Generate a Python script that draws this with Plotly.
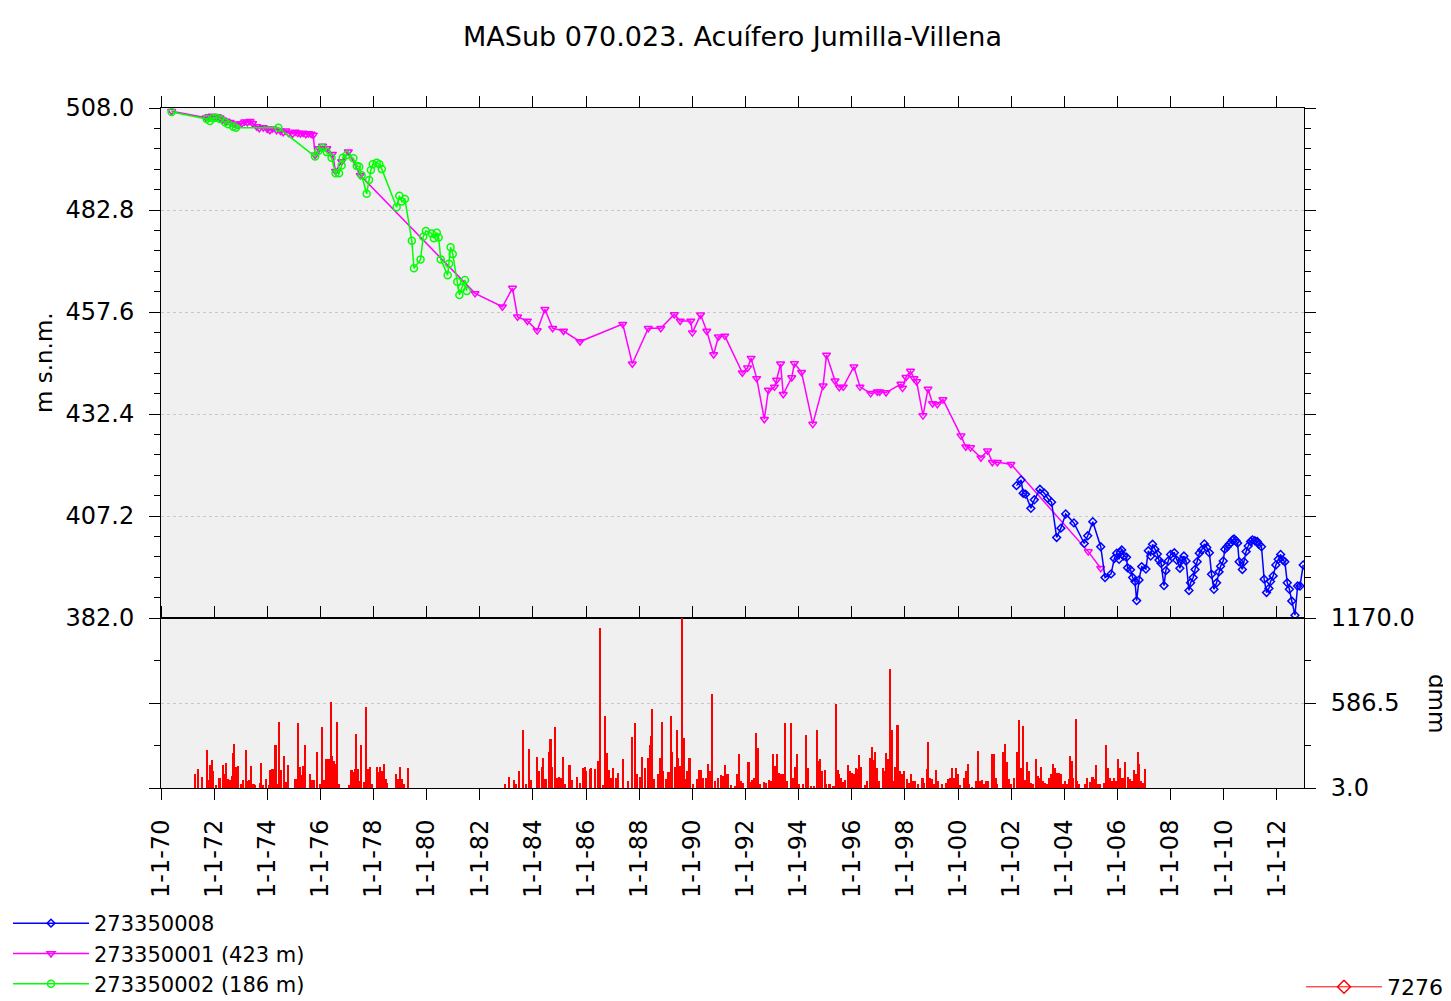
import plotly.graph_objects as go

# ---------------- data ----------------
# 273350008 (blue)
b_x = [2002.20, 2002.37, 2002.45, 2002.54, 2002.74, 2002.87, 2003.08, 2003.25, 2003.37, 2003.52,
       2003.71, 2003.87, 2004.05, 2004.36, 2004.75, 2004.88, 2005.07, 2005.37, 2005.53, 2005.76,
       2005.88, 2005.97, 2006.06, 2006.11, 2006.16, 2006.24, 2006.34, 2006.38, 2006.49, 2006.57,
       2006.66, 2006.72, 2006.81, 2006.91, 2007.07, 2007.16, 2007.25, 2007.32, 2007.41, 2007.50,
       2007.56, 2007.64, 2007.75, 2007.82, 2007.91, 2008.00, 2008.14, 2008.23, 2008.35, 2008.42,
       2008.50, 2008.58, 2008.69, 2008.75, 2008.85, 2008.92, 2009.00, 2009.08, 2009.17, 2009.27,
       2009.36, 2009.46, 2009.54, 2009.63, 2009.73, 2009.82, 2009.88, 2009.98, 2010.04, 2010.13,
       2010.20, 2010.27, 2010.33, 2010.39, 2010.46, 2010.52, 2010.58, 2010.70, 2010.76, 2010.84,
       2010.92, 2011.01, 2011.08, 2011.17, 2011.26, 2011.32, 2011.42, 2011.52, 2011.61, 2011.70,
       2011.76, 2011.86, 2011.96, 2012.05, 2012.14, 2012.22, 2012.30, 2012.39, 2012.47, 2012.56,
       2012.68, 2012.78, 2012.87, 2012.99]
b_y = [414.7, 416.1, 412.8, 412.6, 409.1, 411.2, 413.8, 412.8, 411.6, 410.6,
       401.9, 404.2, 407.7, 405.5, 400.4, 402.3, 405.8, 399.6, 392.0, 392.9,
       396.7, 398.0, 396.5, 398.3, 398.8, 397.3, 397.0, 394.4, 393.9, 392.0,
       391.0, 386.3, 391.4, 394.7, 394.1, 398.6, 397.3, 400.2, 399.0, 397.8,
       396.3, 395.5, 390.0, 393.7, 396.1, 397.7, 398.1, 396.3, 394.3, 396.3,
       397.3, 396.1, 388.8, 390.7, 392.0, 394.0, 395.9, 398.0, 398.8, 400.3,
       399.4, 398.1, 392.8, 389.1, 390.7, 393.4, 394.8, 396.1, 399.0, 399.6,
       400.2, 400.6, 401.3, 401.5, 401.1, 400.5, 395.9, 394.0, 395.9, 398.4,
       399.8, 400.9, 401.3, 401.1, 400.9, 400.2, 399.6, 391.6, 388.3, 389.3,
       391.0, 392.4, 395.1, 396.5, 397.7, 396.3, 395.9, 390.7, 389.1, 386.2,
       382.7, 389.9, 389.9, 395.1]

# 273350001 (423 m) (magenta)
m_x = [1970.40, 1971.70, 1971.80, 1971.92, 1972.02, 1972.12, 1972.22, 1972.32, 1972.45, 1972.60,
       1972.75, 1972.90, 1973.05, 1973.15, 1973.25, 1973.35, 1973.45, 1973.60, 1973.70, 1973.85,
       1974.00, 1974.10, 1974.20, 1974.35, 1974.50, 1974.60, 1974.70, 1974.80, 1974.95, 1975.05,
       1975.15, 1975.25, 1975.35, 1975.45, 1975.55, 1975.65, 1975.73, 1975.80, 1975.95, 1976.08,
       1976.24, 1976.45, 1976.57, 1976.80, 1977.05, 1977.50, 1981.82, 1982.85, 1983.23, 1983.42,
       1983.79, 1984.16, 1984.45, 1984.74, 1985.15, 1985.77, 1987.38, 1987.74, 1988.34, 1988.81,
       1989.32, 1989.54, 1989.94, 1990.00, 1990.31, 1990.54, 1990.80, 1990.98, 1991.22, 1991.88,
       1992.08, 1992.21, 1992.42, 1992.71, 1992.86, 1993.09, 1993.17, 1993.32, 1993.42, 1993.74,
       1993.84, 1994.11, 1994.53, 1994.92, 1995.05, 1995.37, 1995.53, 1995.68, 1996.08, 1996.31,
       1996.71, 1996.96, 1997.05, 1997.29, 1997.85, 1997.91, 1998.04, 1998.21, 1998.34, 1998.44,
       1998.68, 1998.87, 1999.04, 1999.22, 1999.43, 2000.11, 2000.29, 2000.47, 2000.86, 2001.11,
       2001.29, 2001.48, 2001.99, 2004.90, 2005.37]
m_y = [507.2, 505.6, 505.9, 506.0, 505.8, 505.9, 505.6, 505.1, 504.8, 504.5,
       504.1, 503.8, 504.2, 504.6, 504.5, 504.7, 504.2, 503.4, 503.0, 503.2,
       502.8, 502.5, 502.9, 502.5, 502.3, 502.0, 502.4, 501.8, 501.6, 502.1,
       501.8, 501.7, 501.8, 501.5, 501.7, 501.6, 501.3, 496.4, 498.0, 498.6,
       498.0, 496.6, 492.4, 494.8, 497.2, 491.4, 462.2, 458.9, 463.5, 456.4,
       455.4, 453.0, 458.3, 453.6, 452.9, 450.3, 454.6, 444.8, 453.6, 453.6,
       457.0, 455.4, 455.4, 452.5, 456.9, 452.9, 447.1, 451.5, 451.7, 442.6,
       443.8, 446.2, 441.2, 431.1, 438.3, 439.1, 440.8, 444.8, 437.3, 441.4,
       444.9, 442.7, 429.9, 439.4, 447.0, 440.6, 439.0, 439.1, 444.1, 439.1,
       437.5, 437.9, 437.9, 437.7, 439.8, 438.8, 441.5, 443.0, 441.2, 440.4,
       432.0, 438.6, 435.0, 434.8, 436.0, 427.0, 424.3, 424.1, 421.6, 423.3,
       420.5, 420.5, 420.0, 398.4, 394.3]

# 273350002 (186 m) (green)
g_x = [1970.40, 1971.72, 1971.84, 1971.96, 1972.09, 1972.22, 1972.41, 1972.53, 1972.72, 1972.82,
       1974.42, 1975.80, 1975.92, 1976.08, 1976.24, 1976.42, 1976.57, 1976.70, 1976.80, 1976.84,
       1976.99, 1977.24, 1977.37, 1977.46, 1977.55, 1977.74, 1977.83, 1977.90, 1977.97, 1978.12,
       1978.22, 1978.31, 1978.87, 1978.97, 1979.06, 1979.18, 1979.44, 1979.52, 1979.77, 1979.87,
       1979.97, 1980.19, 1980.27, 1980.38, 1980.45, 1980.53, 1980.79, 1980.84, 1980.90, 1980.98,
       1981.15, 1981.23, 1981.32, 1981.44, 1981.51]
g_y = [507.0, 505.3, 504.8, 505.5, 505.6, 505.3, 504.5, 504.0, 503.4, 503.1,
       503.1, 496.0, 497.4, 498.2, 497.1, 495.7, 491.9, 491.9, 493.8, 495.7,
       496.4, 495.6, 493.7, 493.5, 491.4, 486.8, 490.2, 492.7, 494.1, 494.5,
       494.1, 492.9, 483.5, 486.3, 484.9, 485.5, 475.2, 468.4, 470.6, 476.2,
       477.6, 477.0, 475.8, 477.2, 476.0, 470.6, 466.7, 469.5, 473.6, 471.9,
       465.1, 461.8, 463.6, 465.5, 462.8]

# 7276 rainfall (dmm), red bars
p_x = [1971.30, 1971.40, 1971.54, 1971.73, 1971.80, 1971.87, 1971.92, 1971.97, 1972.09, 1972.19,
       1972.23, 1972.33, 1972.38, 1972.45, 1972.52, 1972.59, 1972.67, 1972.71, 1972.77, 1972.84,
       1972.91, 1973.03, 1973.10, 1973.20, 1973.29, 1973.34, 1973.41, 1973.49, 1973.53, 1973.72,
       1973.78, 1973.86, 1973.96, 1974.06, 1974.12, 1974.18, 1974.25, 1974.32, 1974.39, 1974.45,
       1974.52, 1974.64, 1974.71, 1974.78, 1975.04, 1975.12, 1975.17, 1975.23, 1975.30, 1975.36,
       1975.43, 1975.62, 1975.69, 1975.76, 1975.88, 1975.98, 1976.08, 1976.15, 1976.24, 1976.34,
       1976.41, 1976.46, 1976.51, 1976.59, 1976.64, 1976.69, 1977.09, 1977.18, 1977.23, 1977.31,
       1977.36, 1977.42, 1977.46, 1977.54, 1977.64, 1977.71, 1977.78, 1977.82, 1977.88, 1977.95,
       1978.14, 1978.18, 1978.26, 1978.33, 1978.39, 1978.46, 1978.50, 1978.86, 1978.93, 1979.01,
       1979.08, 1979.15, 1979.29,
       1982.94, 1983.11, 1983.30, 1983.37, 1983.47, 1983.65, 1983.76, 1983.86, 1983.95, 1984.16,
       1984.22, 1984.34, 1984.38, 1984.48, 1984.63, 1984.67, 1984.73, 1984.84, 1984.91, 1984.99,
       1985.06, 1985.13, 1985.22, 1985.35, 1985.39, 1985.49, 1985.68, 1985.78, 1985.89, 1985.97,
       1986.02, 1986.14, 1986.21, 1986.33, 1986.47, 1986.54, 1986.64, 1986.71, 1986.79, 1986.86,
       1986.93, 1987.03, 1987.12, 1987.22, 1987.41, 1987.58, 1987.75, 1987.84, 1987.94, 1988.04,
       1988.13, 1988.23, 1988.33, 1988.40, 1988.44, 1988.49, 1988.56, 1988.73, 1988.80, 1988.85,
       1988.92, 1989.02, 1989.11, 1989.19, 1989.25, 1989.34, 1989.42, 1989.48, 1989.54, 1989.63,
       1989.68, 1989.74, 1989.81, 1989.88, 1989.93, 1990.03, 1990.17, 1990.27, 1990.32, 1990.39,
       1990.53, 1990.61, 1990.68, 1990.75, 1990.86, 1990.97, 1991.08, 1991.18, 1991.25, 1991.33,
       1991.47, 1991.61, 1991.69, 1991.76, 1991.83, 1991.90, 1992.12,
       1992.16, 1992.27, 1992.34, 1992.42, 1992.46, 1992.57, 1992.71, 1992.79, 1992.91, 1992.98,
       1993.06, 1993.12, 1993.19, 1993.26, 1993.34, 1993.41, 1993.49, 1993.56, 1993.71, 1993.80,
       1993.86, 1993.93, 1994.01, 1994.16, 1994.28, 1994.35, 1994.46, 1994.57, 1994.69, 1994.75,
       1994.81, 1994.90, 1994.99, 1995.05, 1995.17, 1995.32, 1995.42, 1995.47, 1995.54, 1995.59,
       1995.69, 1995.76, 1995.88, 1995.94, 1996.03, 1996.09, 1996.18, 1996.26, 1996.29, 1996.36,
       1996.51, 1996.58, 1996.69, 1996.76, 1996.81, 1996.88, 1996.96, 1997.04, 1997.19, 1997.25,
       1997.30, 1997.37, 1997.45, 1997.51, 1997.58, 1997.65, 1997.73, 1997.82, 1997.88, 1997.97,
       1998.07, 1998.15, 1998.25, 1998.32, 1998.40, 1998.49, 1998.67, 1998.74, 1998.85, 1998.89,
       1998.96, 1999.04, 1999.11, 1999.19, 1999.26, 1999.41, 1999.56, 1999.63, 1999.71, 1999.78,
       1999.85, 1999.93, 2000.01, 2000.08, 2000.23, 2000.30, 2000.38, 2000.42, 2000.53, 2000.68,
       2000.75, 2000.82, 2000.90, 2000.97, 2001.05, 2001.12, 2001.27, 2001.35, 2001.42, 2001.49,
       2001.72, 2001.79, 2001.84, 2001.91, 2002.01, 2002.13, 2002.24, 2002.31, 2002.39, 2002.46,
       2002.54, 2002.61, 2002.68, 2002.76, 2002.83, 2002.94, 2003.03, 2003.09, 2003.13, 2003.21,
       2003.28, 2003.35, 2003.43, 2003.50, 2003.58, 2003.65, 2003.73, 2003.80, 2003.88, 2003.95,
       2004.02, 2004.10, 2004.17, 2004.22, 2004.28, 2004.34, 2004.44, 2004.50, 2004.57, 2004.77,
       2004.87, 2004.96, 2005.07, 2005.14, 2005.21, 2005.29, 2005.36, 2005.51, 2005.59, 2005.66,
       2005.73, 2005.81, 2005.88, 2005.96, 2006.03, 2006.11, 2006.18, 2006.26, 2006.30, 2006.40,
       2006.48, 2006.55, 2006.63, 2006.70, 2006.78, 2006.82, 2006.90, 2006.96, 2007.04]
p_y = [101, 131, 78, 262, 55, 161, 193, 120, 23, 74,
       69, 159, 97, 177, 62, 55, 83, 246, 308, 147,
       152, 30, 55, 262, 51, 55, 152, 28, 23, 37,
       173, 23, 67, 23, 124, 131, 131, 299, 28, 458,
       124, 223, 41, 161, 62, 67, 449, 147, 92, 154,
       295, 97, 55, 55, 251, 28, 419, 55, 200, 200,
       592, 223, 189, 170, 458, 28, 23, 124, 113, 131,
       373, 131, 51, 297, 46, 557, 23, 136, 150, 28,
       147, 113, 147, 120, 166, 67, 37, 97, 67, 147,
       62, 28, 138,
       32, 78, 55, 28, 120, 400, 28, 269, 55, 219,
       120, 147, 212, 62, 251, 338, 147, 419, 74, 78,
       74, 219, 28, 159, 159, 55, 81, 39, 143, 147,
       120, 131, 143, 136, 189, 1098, 23, 500, 246, 124,
       74, 138, 74, 108, 200, 51, 354, 447, 101, 78,
       216, 143, 212, 299, 361, 546, 62, 97, 207, 458,
       120, 67, 113, 500, 251, 147, 400, 207, 154, 1167,
       343, 62, 120, 207, 207, 32, 62, 124, 124, 74,
       74, 166, 120, 649, 51, 74, 92, 85, 159, 97,
       23, 16, 97, 235, 51, 39, 184,
       46, 55, 74, 378, 281, 28, 46, 39, 55, 51,
       239, 154, 239, 108, 97, 101, 449, 51, 449, 74,
       147, 239, 28, 28, 366, 143, 16, 16, 400, 189,
       200, 120, 124, 28, 32, 16, 580, 124, 97, 74,
       46, 55, 159, 120, 108, 97, 138, 131, 228, 147,
       23, 51, 212, 285, 193, 251, 143, 51, 143, 120,
       246, 200, 822, 400, 51, 147, 435, 120, 97, 120,
       62, 39, 97, 51, 51, 28, 69, 39, 136, 320,
       74, 62, 28, 124, 51, 32, 39, 62, 74, 138,
       74, 138, 97, 23, 74, 120, 166, 28, 10, 51,
       258, 51, 55, 32, 51, 51, 239, 239, 74, 28,
       251, 308, 184, 62, 28, 74, 251, 470, 143, 430,
       55, 182, 120, 39, 28, 200, 85, 74, 147, 51,
       39, 28, 74, 97, 166, 143, 108, 108, 97, 28,
       51, 28, 62, 223, 189, 74, 476, 51, 28, 28,
       74, 46, 78, 62, 159, 28, 28, 39, 299, 143,
       74, 51, 74, 51, 200, 143, 74, 74, 182, 78,
       62, 51, 124, 97, 253, 166, 51, 39, 131]

# axis ticks
x_tickvals = [1970, 1972, 1974, 1976, 1978, 1980, 1982, 1984, 1986, 1988, 1990,
              1992, 1994, 1996, 1998, 2000, 2002, 2004, 2006, 2008, 2010, 2012]
x_ticktext = ["1-1-70", "1-1-72", "1-1-74", "1-1-76", "1-1-78", "1-1-80", "1-1-82",
              "1-1-84", "1-1-86", "1-1-88", "1-1-90", "1-1-92", "1-1-94", "1-1-96",
              "1-1-98", "1-1-00", "1-1-02", "1-1-04", "1-1-06", "1-1-08", "1-1-10", "1-1-12"]
y_tickvals = [382.0, 407.2, 432.4, 457.6, 482.8, 508.0]
y_ticktext = ["382.0", "407.2", "432.4", "457.6", "482.8", "508.0"]
y2_tickvals = [3.0, 586.5, 1170.0]
y2_ticktext = ["3.0", "586.5", "1170.0"]

FONT = "DejaVu Sans"
OFF = 8                     # the page body margin of the html page
W, H = 1451 - OFF, 1001 - OFF
# plot-area edges in page pixels (as in the reference)
L, R, T, B = 161, 1304, 108, 788
fl, fr, ft, fb = L - OFF, R - OFF, T - OFF, B - OFF


def px_x(p):   # page px -> paper x
    return (p - L) / (R - L)


def px_y(p):   # page px -> paper y
    return (B - p) / (B - T)


def cx(p):     # page px -> container x
    return (p - OFF) / W


def cy(p):     # page px -> container y
    return 1 - (p - OFF) / H


fig = go.Figure()

fig.add_trace(go.Scatter(
    x=m_x, y=m_y, name="273350001 (423 m)", mode="lines+markers",
    line=dict(color="#ff00ff", width=1.5),
    marker=dict(symbol="triangle-down-open", size=7, color="#ff00ff", line=dict(width=1.5)),
    legendrank=2, xaxis="x", yaxis="y"))
fig.add_trace(go.Scatter(
    x=g_x, y=g_y, name="273350002 (186 m)", mode="lines+markers",
    line=dict(color="#00ff00", width=1.5),
    marker=dict(symbol="circle-open", size=7, color="#00ff00", line=dict(width=1.5)),
    legendrank=3, xaxis="x", yaxis="y"))
fig.add_trace(go.Scatter(
    x=b_x, y=b_y, name="273350008", mode="lines+markers",
    line=dict(color="#0000ff", width=1.5),
    marker=dict(symbol="diamond-open", size=6, color="#0000ff", line=dict(width=1.5)),
    legendrank=1, xaxis="x", yaxis="y"))

fig.add_trace(go.Bar(
    x=p_x, y=p_y, width=0.06, name="7276",
    marker=dict(color="#ff0000", line=dict(width=0)),
    showlegend=False, xaxis="x2", yaxis="y2"))
# legend entry for the rain series (line + diamond like the original key)
fig.add_trace(go.Scatter(
    x=[None], y=[None], name="7276", mode="lines+markers",
    line=dict(color="#ff0000", width=1),
    marker=dict(symbol="diamond-open", size=10, color="#ff0000", line=dict(width=1.5)),
    legend="legend2", xaxis="x2", yaxis="y2"))

axis_common = dict(showline=True, linecolor="black", linewidth=1, tickcolor="black",
                   zeroline=False, ticks="outside", ticklen=11, tickwidth=1, automargin=False)

fig.update_layout(
    width=W, height=H, autosize=False,
    margin=dict(l=fl, r=W - fr, t=ft, b=H - fb, pad=0, autoexpand=False),
    paper_bgcolor="white", plot_bgcolor="#f0f0f0",
    font=dict(family=FONT, size=24, color="black"),
    title=dict(text="MASub 070.023. Acuífero Jumilla-Villena", x=0.5, xref="paper", xanchor="center",
               y=cy(37), yref="container", yanchor="middle", font=dict(size=27)),
    bargap=0,
    showlegend=True,
    legend=dict(x=0.0, y=cy(903), xref="container", yref="container",
                xanchor="left", yanchor="top", itemwidth=76,
                bgcolor="rgba(0,0,0,0)", font=dict(size=21), tracegroupgap=0),
    legend2=dict(x=cx(1448), y=cy(987), xref="container", yref="container",
                 xanchor="right", yanchor="middle", itemwidth=76,
                 bgcolor="rgba(0,0,0,0)", font=dict(size=22)),
    xaxis=dict(domain=[0, 1], anchor="y", range=[1970, 2013.02], side="top",
               tickmode="array", tickvals=x_tickvals, showticklabels=False,
               mirror=True, showgrid=False, **axis_common),
    xaxis2=dict(domain=[0, 1], anchor="y2", matches="x", range=[1970, 2013.02],
                tickmode="array", tickvals=x_tickvals, ticktext=x_ticktext, tickangle=-90,
                tickfont=dict(size=24), ticklabelstandoff=10,
                mirror="ticks", showgrid=False, **axis_common),
    yaxis=dict(domain=[0.25, 1], anchor="x", range=[382, 508],
               tickmode="array", tickvals=y_tickvals, ticktext=y_ticktext,
               tickfont=dict(size=24), ticklabelstandoff=10, mirror="ticks",
               showgrid=True, gridcolor="#c8c8c8", griddash="dot", gridwidth=1,
               minor=dict(ticks="outside", ticklen=6, tickcolor="black", tick0=382, dtick=5.04,
                          showgrid=False),
               **axis_common),
    yaxis2=dict(domain=[0, 0.25], anchor="x2", side="right", range=[3, 1170],
                tickmode="array", tickvals=y2_tickvals, ticktext=y2_ticktext,
                tickfont=dict(size=24), ticklabelstandoff=10, mirror="ticks",
                showgrid=True, gridcolor="#c8c8c8", griddash="dot", gridwidth=1,
                minor=dict(ticks="outside", ticklen=6, tickcolor="black", tick0=3, dtick=291.75,
                           showgrid=False),
                **axis_common),
    annotations=[
        dict(text="m s.n.m.", textangle=-90, x=px_x(44), y=px_y(363),
             xref="paper", yref="paper", xanchor="center", yanchor="middle", showarrow=False,
             font=dict(size=23, family=FONT)),
        dict(text="dmm", textangle=90, x=px_x(1437), y=px_y(703),
             xref="paper", yref="paper", xanchor="center", yanchor="middle", showarrow=False,
             font=dict(size=23, family=FONT)),
    ],
)

fig.write_html("out.html")
